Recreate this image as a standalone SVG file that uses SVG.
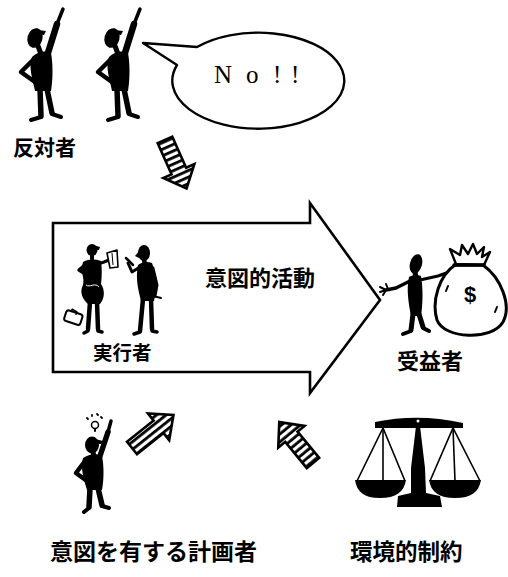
<svg xmlns="http://www.w3.org/2000/svg" width="508" height="577" viewBox="0 0 508 577">
  <style>
    .ink { fill: #000; }
    .limb { stroke: #000; fill: none; stroke-linecap: round; stroke-linejoin: round; }
    .outline { fill: #fff; stroke: #000; stroke-linejoin: round; }
    .lbl { font-family: "Noto Sans CJK JP", "Noto Sans", sans-serif; font-weight: 600; fill: #000; }
    .hatch-arrow { stroke: #000; stroke-width: 2.6; stroke-linejoin: miter; }
  </style>
  <defs>
    <!-- stripes across the arrow shaft -->
    <pattern id="stripesAcross" patternUnits="userSpaceOnUse" width="6" height="6">
      <rect x="0" y="0" width="6" height="6" fill="#fff"/>
      <rect x="0" y="0" width="2.8" height="6" fill="#000"/>
    </pattern>
    <!-- stripes along the arrow shaft -->
    <pattern id="stripesAlong" patternUnits="userSpaceOnUse" width="6" height="6">
      <rect x="0" y="0" width="6" height="6" fill="#fff"/>
      <rect x="0" y="0" width="6" height="2.8" fill="#000"/>
    </pattern>
    <!-- pointing figure -->
    <g id="pointer">
      <ellipse class="ink" cx="35" cy="38" rx="7.5" ry="10" transform="rotate(15 35 38)"/>
      <path class="ink" d="M38,30 L46,31 L44,35 L38,34 Z"/>
      <line class="limb" x1="38" y1="46" x2="41" y2="54" stroke-width="5"/>
      <path class="ink" d="M32,57 C28,67 33,80 35,91 L51,91 C53,78 53,64 51,53 C45,50 37,52 32,57 Z"/>
      <line class="limb" x1="47" y1="56" x2="57" y2="24" stroke-width="6.5"/>
      <line class="limb" x1="57" y1="24" x2="63" y2="9" stroke-width="3.5"/>
      <polyline class="limb" points="34,59 21,72 35,82" stroke-width="4.5"/>
      <line class="limb" x1="40" y1="89" x2="41" y2="116" stroke-width="5.5"/>
      <line class="limb" x1="47" y1="89" x2="52" y2="113" stroke-width="5.5"/>
      <line class="limb" x1="41" y1="117" x2="31" y2="120" stroke-width="4"/>
      <line class="limb" x1="52" y1="114" x2="61" y2="117" stroke-width="4"/>
    </g>
    <!-- hatched arrow, tail at origin, pointing along +x -->
    <polygon id="hatchArrowShape" points="0,-8 34,-8 34,-17 53,0 34,17 34,8 0,8"/>
  </defs>

  <!-- main activity arrow -->
  <g id="activity">
    <polygon points="53,223 310,223 310,203 380,300 310,393 310,372 53,372" fill="#fff" stroke="#000" stroke-width="2.6" stroke-linejoin="miter"/>
    <text class="lbl" x="205" y="286" font-size="22">意図的活動</text>
  </g>

  <!-- opponents -->
  <g id="opponents">
    <use href="#pointer"/>
    <use href="#pointer" transform="translate(77,0)"/>
    <text class="lbl" x="13" y="155" font-size="21">反対者</text>
  </g>

  <!-- speech balloon -->
  <g id="balloon">
    <path d="M177,65 L143,43 L197,47 A86,48 0 1,1 177,65 Z" fill="#fff" stroke="#000" stroke-width="2.4" stroke-linejoin="round"/>
    <text x="214 246 273 291" y="83" font-family="Liberation Serif, serif" font-size="25">No!!</text>
  </g>

  <!-- executors inside the activity arrow -->
  <g id="executors">
    <!-- figure holding papers -->
    <ellipse class="ink" cx="92" cy="250" rx="5.5" ry="6"/>
    <path class="ink" d="M93,245 L100,247 L99,250 L93,250 Z"/>
    <line class="limb" x1="92" y1="255" x2="92" y2="261" stroke-width="4"/>
    <path class="ink" d="M83,262 C80,272 85,278 83,285 C79,292 83,300 88,304 L100,304 C105,298 105,290 101,284 C102,276 102,268 101,261 C95,259 89,259 83,262 Z"/>
    <polyline class="limb" points="85,265 79,270 87,275" stroke-width="3.5"/>
    <polyline class="limb" points="98,264 104,262 109,260" stroke-width="3"/>
    <polygon class="outline" points="107,253 117,250 118,267 110,268" stroke-width="1.6"/>
    <line x1="112" y1="253" x2="113" y2="265" stroke="#000" stroke-width="1"/>
    <path d="M86,285 C90,288 95,282 99,287" stroke="#fff" stroke-width="1" fill="none"/>
    <line class="limb" x1="90" y1="302" x2="88" y2="329" stroke-width="4.5"/>
    <line class="limb" x1="97" y1="302" x2="98" y2="329" stroke-width="4.5"/>
    <line class="limb" x1="88" y1="331" x2="84" y2="333" stroke-width="3.5"/>
    <line class="limb" x1="98" y1="331" x2="102" y2="332" stroke-width="3.5"/>
    <!-- briefcase -->
    <rect class="outline" x="65" y="312" width="17" height="11" rx="2.5" transform="rotate(18 73 317)" stroke-width="2"/>
    <path d="M69,313 L70,310 L75,311 L75,314" fill="none" stroke="#000" stroke-width="1.6" transform="rotate(18 73 317)"/>
    <!-- figure with hand raised to face -->
    <ellipse class="ink" cx="144" cy="253" rx="6" ry="8"/>
    <path class="ink" d="M140,250 L135,256 L139,258 Z"/>
    <line class="limb" x1="144" y1="259" x2="145" y2="265" stroke-width="4.5"/>
    <path class="ink" d="M138,265 C135,280 139,292 141,301 L154,301 C157,290 157,276 152,263 C147,261 142,262 138,265 Z"/>
    <polyline class="limb" points="140,267 132,272 128,263" stroke-width="3"/>
    <line class="limb" x1="126" y1="258" x2="133" y2="265" stroke-width="2.5"/>
    <polyline class="limb" points="153,268 157,285 155,296" stroke-width="3"/>
    <line class="limb" x1="153" y1="296" x2="161" y2="298" stroke-width="2"/>
    <line class="limb" x1="143" y1="299" x2="140" y2="331" stroke-width="4.5"/>
    <line class="limb" x1="151" y1="299" x2="152" y2="329" stroke-width="4.5"/>
    <line class="limb" x1="140" y1="332" x2="134" y2="334" stroke-width="3.5"/>
    <line class="limb" x1="152" y1="331" x2="157" y2="332" stroke-width="3.5"/>
    <text class="lbl" x="93" y="360" font-size="19.5">実行者</text>
  </g>

  <!-- beneficiary with money bag -->
  <g id="beneficiary">
    <ellipse class="ink" cx="416" cy="264" rx="6" ry="10" transform="rotate(15 416 264)"/>
    <line class="limb" x1="415" y1="272" x2="416" y2="278" stroke-width="5"/>
    <path class="ink" d="M409,277 C406,290 409,305 411,316 L421,316 C423,302 423,288 421,276 C417,274 412,275 409,277 Z"/>
    <polyline class="limb" points="410,281 396,288 386,290" stroke-width="3.5"/>
    <line class="limb" x1="386" y1="290" x2="380" y2="287" stroke-width="2"/>
    <line class="limb" x1="386" y1="290" x2="380" y2="292" stroke-width="2"/>
    <line class="limb" x1="386" y1="290" x2="383" y2="295" stroke-width="2"/>
    <line class="limb" x1="388" y1="289" x2="386" y2="284" stroke-width="2"/>
    <polyline class="limb" points="420,280 438,276 452,271" stroke-width="3"/>
    <line class="limb" x1="413" y1="314" x2="411" y2="330" stroke-width="5"/>
    <line class="limb" x1="419" y1="314" x2="423" y2="327" stroke-width="5"/>
    <line class="limb" x1="411" y1="331" x2="403" y2="334" stroke-width="4"/>
    <line class="limb" x1="423" y1="328" x2="429" y2="331" stroke-width="4"/>
    <!-- money bag -->
    <path class="outline" d="M455,265 C440,275 431,300 437,320 C444,339 492,341 503,322 C512,305 501,278 483,265 Z" stroke-width="3"/>
    <path class="outline" d="M456,264 L450,249 L460,255 L462,245 L468,254 L473,244 L477,254 L484,247 L482,257 L490,252 L484,265 Z" stroke-width="2.4"/>
    <line class="limb" x1="454" y1="265" x2="484" y2="265" stroke-width="3.5"/>
    <text x="470" y="302" font-family="Liberation Sans, sans-serif" font-size="22" font-weight="bold" text-anchor="middle">$</text>
    <line class="limb" x1="446" y1="291" x2="448" y2="286" stroke-width="2"/>
    <line class="limb" x1="497" y1="307" x2="495" y2="312" stroke-width="2"/>
    <text class="lbl" x="397" y="369" font-size="22">受益者</text>
  </g>

  <!-- planner with an idea -->
  <g id="planner">
    <circle class="outline" cx="95" cy="425" r="3.5" stroke-width="1.5"/>
    <line class="limb" x1="95" y1="429" x2="95" y2="431" stroke-width="2"/>
    <line class="limb" x1="87" y1="418" x2="88" y2="419" stroke-width="1.8"/>
    <line class="limb" x1="92" y1="415" x2="92" y2="416" stroke-width="1.8"/>
    <line class="limb" x1="97" y1="414" x2="98" y2="415" stroke-width="1.8"/>
    <line class="limb" x1="101" y1="417" x2="102" y2="418" stroke-width="1.8"/>
    <ellipse class="ink" cx="92" cy="445" rx="7" ry="8.5"/>
    <path class="ink" d="M95,439 L103,441 L101,444 L95,444 Z"/>
    <line class="limb" x1="93" y1="452" x2="94" y2="457" stroke-width="5"/>
    <path class="ink" d="M83,458 C80,468 84,480 87,490 L102,490 C104,479 104,466 102,456 C96,453 89,454 83,458 Z"/>
    <line class="limb" x1="99" y1="459" x2="108" y2="432" stroke-width="5.5"/>
    <line class="limb" x1="108" y1="432" x2="111" y2="421" stroke-width="3.5"/>
    <polyline class="limb" points="85,461 76,473 87,481" stroke-width="4.5"/>
    <line class="limb" x1="90" y1="488" x2="89" y2="507" stroke-width="5.5"/>
    <line class="limb" x1="98" y1="488" x2="102" y2="505" stroke-width="5.5"/>
    <line class="limb" x1="89" y1="508" x2="84" y2="512" stroke-width="4"/>
    <line class="limb" x1="102" y1="506" x2="109" y2="508" stroke-width="4"/>
    <text class="lbl" x="50" y="560" font-size="23">意図を有する計画者</text>
  </g>

  <!-- environmental constraints: balance scale -->
  <g id="constraints">
    <path class="ink" d="M375,422 Q418,413 463,423 L463,428 L375,428 Z"/>
    <circle cx="418" cy="421" r="1.5" fill="#fff"/>
    <path class="ink" d="M416,426 L420,426 L425,468 L426,493 L440,496 L442,507 L397,507 L398,496 L411,493 L411,468 Z"/>
    <g stroke="#000" stroke-width="1.6" fill="none">
      <polyline points="357,481 383,428 405,481"/>
      <line x1="383" y1="428" x2="383" y2="481"/>
      <polyline points="430,481 453,428 480,481"/>
      <line x1="453" y1="428" x2="455" y2="481"/>
    </g>
    <path class="ink" d="M355,480 L406,480 C404,492 396,498 380,498 C364,498 357,492 355,480 Z"/>
    <path class="ink" d="M429,480 L481,480 C479,492 471,498 455,498 C439,498 431,492 429,480 Z"/>
    <text class="lbl" x="350" y="560" font-size="22.5">環境的制約</text>
  </g>

  <!-- influence arrows -->
  <g id="connectors">
    <use href="#hatchArrowShape" class="hatch-arrow" fill="url(#stripesAcross)" transform="translate(165,140) rotate(66)"/>
    <use href="#hatchArrowShape" class="hatch-arrow" fill="url(#stripesAlong)" transform="translate(132,448) rotate(-38.5)"/>
    <use href="#hatchArrowShape" class="hatch-arrow" fill="url(#stripesAcross)" transform="translate(313,463) rotate(-129.5)"/>
  </g>
</svg>
